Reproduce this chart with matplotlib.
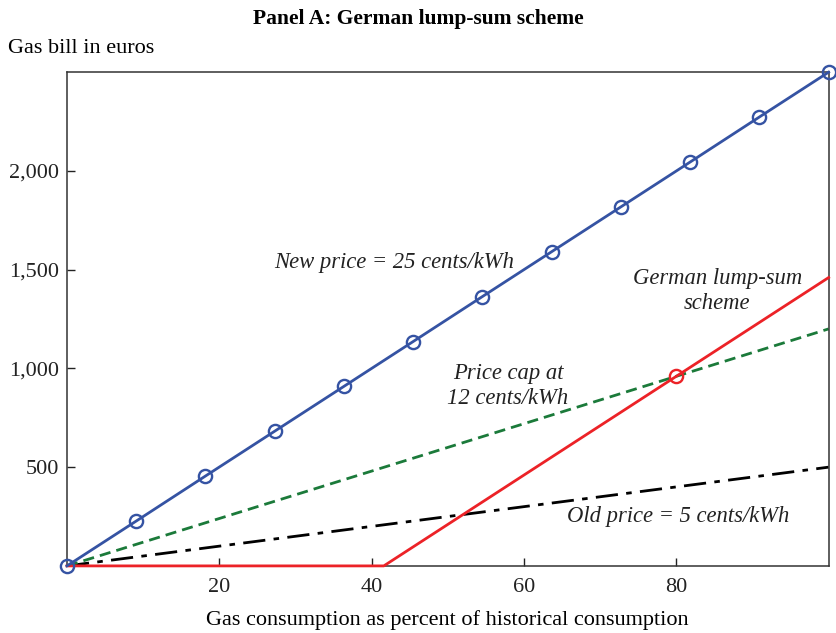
import matplotlib
matplotlib.use("Agg")
import matplotlib.pyplot as plt
from matplotlib.ticker import FuncFormatter

# Data (gas consumption in % of historical; bills in euros)
consumption = [0, 9.09, 18.18, 27.27, 36.36, 45.45, 54.55, 63.64, 72.73, 81.82, 90.91, 100]
new_price_bill = [0, 227, 455, 682, 909, 1136, 1364, 1591, 1818, 2045, 2273, 2500]
cap_x = [0, 100]
cap_bill = [0, 1200]
old_x = [0, 100]
old_bill = [0, 500]
lump_x = [0, 41.6, 100]
lump_bill = [0, 0, 1460]
lump_marker_x = [80]
lump_marker_y = [960]

xticks = [20, 40, 60, 80]
yticks = [500, 1000, 1500, 2000]

plt.rcParams['font.family'] = ['Liberation Serif', 'DejaVu Serif']

fig = plt.figure(figsize=(8.37, 6.33), dpi=100)
ax = fig.add_axes([0.080, 0.106, 0.910, 0.780])

blue = '#3553a3'
red = '#ec2227'
green = '#1b7a3a'

ax.plot(old_x, old_bill, color='black', lw=2, dashes=(8, 3, 2, 3), zorder=2)
ax.plot(cap_x, cap_bill, color=green, lw=2, dashes=(4, 2.2), zorder=2)
ax.plot(lump_x, lump_bill, color=red, lw=2, zorder=3, clip_on=False)
ax.plot(lump_marker_x, lump_marker_y, 'o', ms=9.5, mfc='none', mec=red, mew=1.7, zorder=4)
ax.plot(consumption, new_price_bill, color=blue, lw=2, marker='o', ms=9.5,
        mfc='none', mec=blue, mew=1.7, zorder=5, clip_on=False)

ax.set_xlim(0, 100)
ax.set_ylim(0, 2500)
ax.set_xticks(xticks)
ax.set_yticks(yticks)
ax.yaxis.set_major_formatter(FuncFormatter(lambda v, p: f"{int(v):,}"))
ax.tick_params(direction='in', length=6, width=1, labelsize=16, colors='#222222')
ax.tick_params(axis='y', pad=6)
ax.tick_params(axis='x', pad=9)
for s in ax.spines.values():
    s.set_linewidth(1.1)
    s.set_color('#333333')

ax.set_xlabel('Gas consumption as percent of historical consumption', fontsize=16, labelpad=9)

tkw = dict(fontsize=16.3, style='italic', ha='center', va='center', color='#222222')
ax.text(43, 1538, 'New price = 25 cents/kWh', **tkw)
ax.text(85.4, 1392, 'German lump-sum\nscheme', linespacing=1.2, **tkw)
ax.text(57.9, 911, 'Price cap at\n12 cents/kWh', linespacing=1.2, **tkw)
ax.text(80.2, 248, 'Old price = 5 cents/kWh', **tkw)

fig.text(0.5, 0.970, 'Panel A: German lump-sum scheme', ha='center', va='center',
         fontsize=15.5, fontweight='bold')
fig.text(0.009, 0.924, 'Gas bill in euros', ha='left', va='center', fontsize=16)

fig.savefig('out.png', dpi=100)
